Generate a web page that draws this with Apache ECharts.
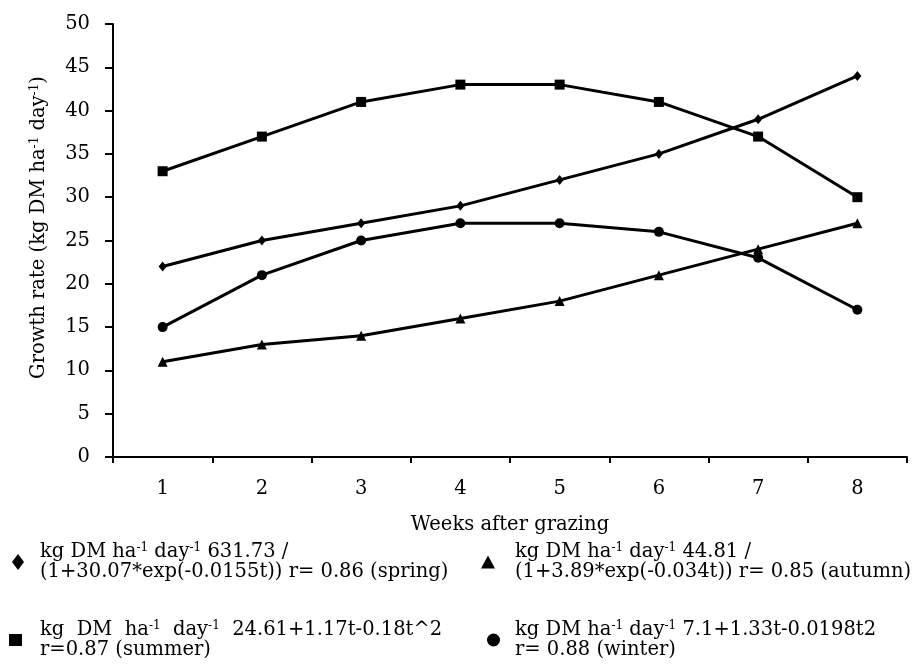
<!DOCTYPE html>
<html>
<head>
<meta charset="utf-8">
<script src="https://cdn.jsdelivr.net/npm/echarts@6/dist/echarts.min.js"></script>
<style>html,body{margin:0;padding:0;background:#fff}#c{width:912px;height:667px}</style>
</head>
<body>
<div id="c"></div>
<script>
var weeks = ['1','2','3','4','5','6','7','8'];
var spring = [22,25,27,29,32,35,39,44];
var summer = [33,37,41,43,43,41,37,30];
var winter = [15,21,25,27,27,26,23,17];
var autumn = [11,13,14,16,18,21,24,27];
var yTicks = {min:0, max:50, interval:5};
var legendTexts = {
  spring: 'kg DM ha{s|-1} day{s|-1} 631.73 /\n(1+30.07*exp(-0.0155t)) r= 0.86 (spring)',
  summer: 'kg  DM  ha{s|-1}  day{s|-1}  24.61+1.17t-0.18t^2\nr=0.87 (summer)',
  autumn: 'kg DM ha{s|-1} day{s|-1} 44.81 /\n(1+3.89*exp(-0.034t)) r= 0.85 (autumn)',
  winter: 'kg DM ha{s|-1} day{s|-1} 7.1+1.33t-0.0198t2\nr= 0.88 (winter)'
};

var FONT = 'DejaVu Serif';
var FS = 19.5;
var rich = {
  s: {fontFamily: FONT, fontSize: 12, lineHeight: 10, verticalAlign: 'top', color: '#000'}
};

function mkLegend(name, icon, w, h, left, top, padLeft) {
  return {
    left: left, top: top, padding: 0, orient: 'vertical',
    selectedMode: false,
    itemWidth: w, itemHeight: h,
    data: [{name: name, icon: icon}],
    itemStyle: {color: '#000', borderWidth: 0},
    formatter: function (n) { return legendTexts[n]; },
    textStyle: {fontFamily: FONT, fontSize: FS, lineHeight: 20, color: '#000', padding: [0,0,0,padLeft], rich: rich}
  };
}

function mkSeries(name, data, symbol, size) {
  return {
    name: name, type: 'line', data: data,
    symbol: symbol, symbolSize: size,
    lineStyle: {color: '#000', width: 3},
    itemStyle: {color: '#000'},
    animation: false
  };
}

var chart = echarts.init(document.getElementById('c'));
chart.setOption({
  animation: false,
  grid: {left: 113, right: 5, top: 24, bottom: 210, containLabel: false},
  xAxis: {
    type: 'category', data: weeks, boundaryGap: true,
    name: 'Weeks after grazing', nameLocation: 'middle', nameGap: 58,
    nameTextStyle: {fontFamily: FONT, fontSize: FS, color: '#000'},
    axisLine: {lineStyle: {color: '#000', width: 2}},
    axisTick: {show: true, length: 6, lineStyle: {color: '#000', width: 2}},
    axisLabel: {fontFamily: FONT, fontSize: FS, color: '#000', margin: 22},
    splitLine: {show: false}
  },
  yAxis: {
    type: 'value', min: yTicks.min, max: yTicks.max, interval: yTicks.interval,
    name: 'Growth rate (kg DM ha{s|-1} day{s|-1})', nameLocation: 'middle', nameGap: 64,
    nameTextStyle: {fontFamily: FONT, fontSize: FS, color: '#000', lineHeight: 20, padding: [0,0,0,26], rich: rich},
    axisLine: {show: true, lineStyle: {color: '#000', width: 2}},
    axisTick: {show: true, length: 8, lineStyle: {color: '#000', width: 2}},
    axisLabel: {fontFamily: FONT, fontSize: FS, color: '#000', margin: 23},
    splitLine: {show: false}
  },
  legend: [
    mkLegend('spring', 'diamond', 12, 16, 12, 542, 11),
    mkLegend('summer', 'rect', 13, 12, 9, 620, 13),
    mkLegend('autumn', 'triangle', 14, 13, 481, 542, 15),
    mkLegend('winter', 'circle', 13, 13, 487, 620, 10)
  ],
  series: [
    mkSeries('spring', spring, 'diamond', [8, 10]),
    mkSeries('summer', summer, 'rect', 10),
    mkSeries('winter', winter, 'circle', 10),
    mkSeries('autumn', autumn, 'triangle', 10)
  ]
});
</script>
</body>
</html>
